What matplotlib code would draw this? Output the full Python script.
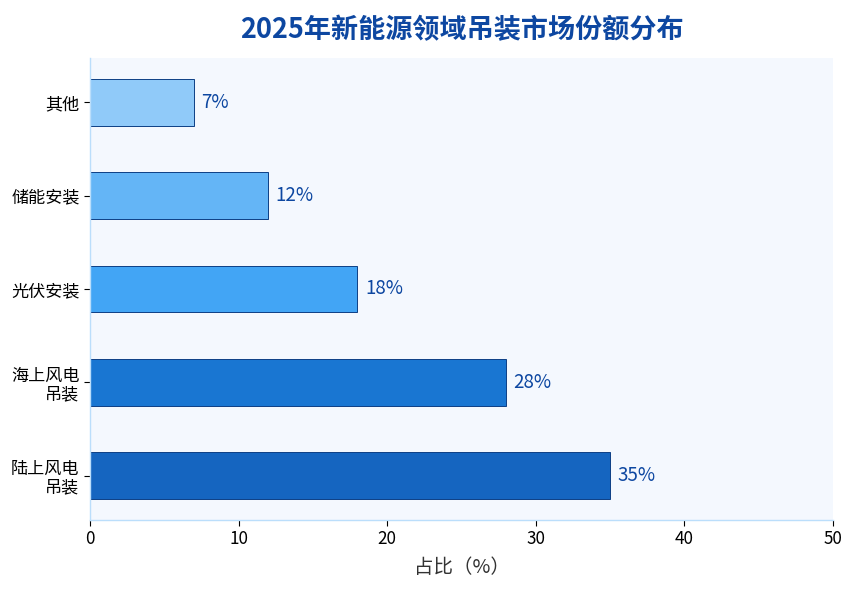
import matplotlib
matplotlib.use("Agg")
import matplotlib.pyplot as plt

plt.rcParams['font.family'] = ['Noto Sans CJK SC', 'DejaVu Sans']

categories = ['陆上风电\n吊装', '海上风电\n吊装', '光伏安装', '储能安装', '其他']
values = [35, 28, 18, 12, 7]
colors = ['#1565C0', '#1976D2', '#42A5F5', '#64B5F6', '#90CAF9']
xticks = [0, 10, 20, 30, 40, 50]

fig = plt.figure(figsize=(8.55, 5.9), dpi=100)
ax = fig.add_axes([90/855, 70/590, (833-90)/855, (520-58)/590])
ax.set_facecolor('#F4F8FE')

ypos = list(range(len(categories)))
bars = ax.barh(ypos, values, height=0.5, color=colors, edgecolor='#0D3F85', linewidth=0.7)
for y, v in zip(ypos, values):
    ax.text(v + 0.5, y, f'{v}%', va='center', ha='left', fontsize=13.5, color='#0D47A1')

ax.set_yticks(ypos)
ax.set_yticklabels(categories, fontsize=12.3, linespacing=1.05)
ax.set_xlim(0, 50)
ax.set_xticks(xticks)
ax.set_xticklabels([str(t) for t in xticks], fontsize=12.3)
ax.set_xlabel('占比（%）', fontsize=14, color='#333333', labelpad=6)

for s in ['top', 'right']:
    ax.spines[s].set_visible(False)
for s in ['left', 'bottom']:
    ax.spines[s].set_color('#BBDEFB')
    ax.spines[s].set_linewidth(1)
ax.tick_params(axis='both', colors='#000000', length=4, width=0.8)
ax.tick_params(axis='both', labelcolor='#000000')

ax.set_title('2025年新能源领域吊装市场份额分布', fontsize=19.5, fontweight='bold',
             color='#0D47A1', pad=14)

fig.savefig('out.png', dpi=100)
